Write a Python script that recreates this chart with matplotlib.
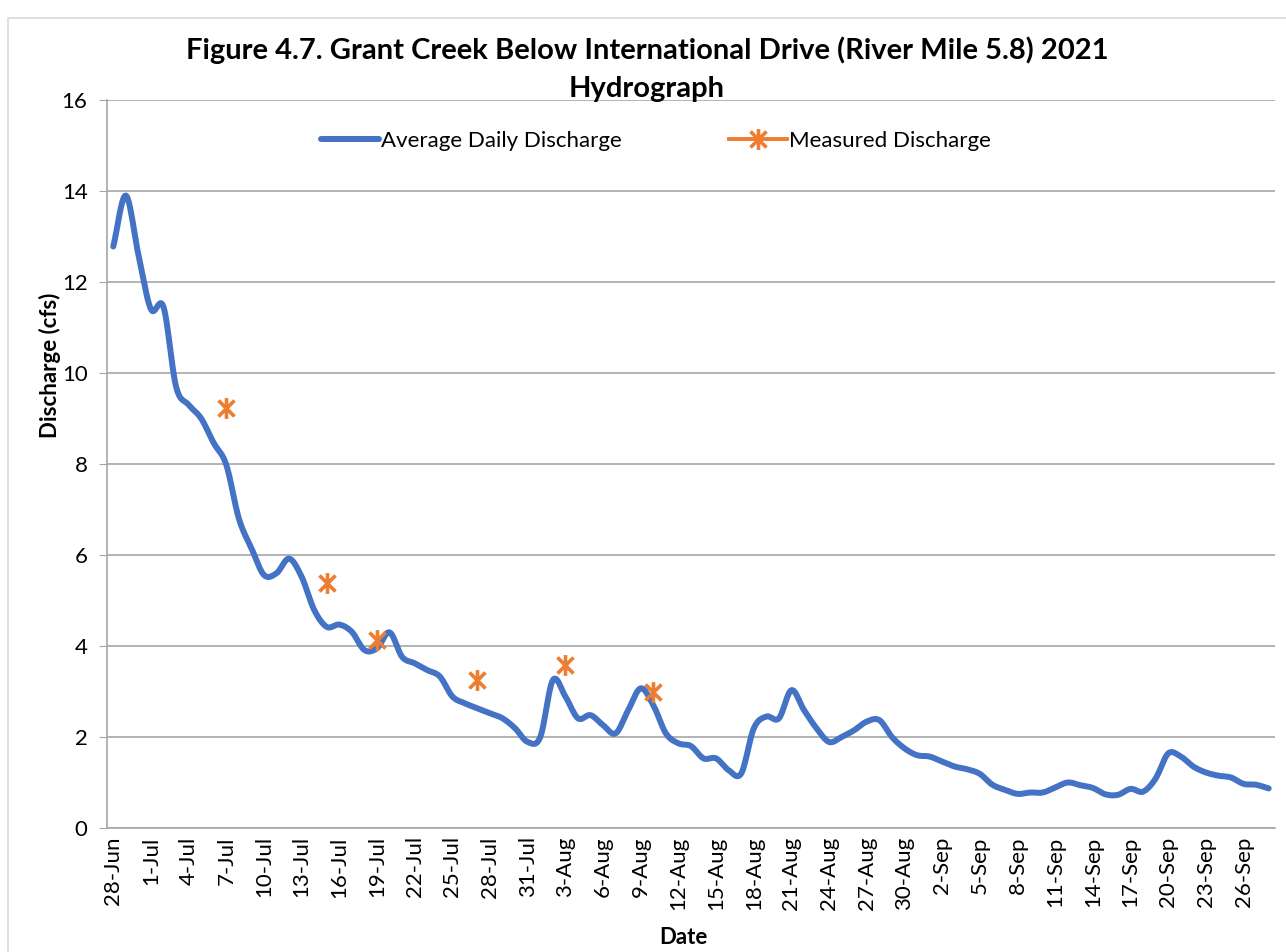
"""Grant Creek below International Drive, 2021 hydrograph -> out.png"""
import matplotlib

matplotlib.use("Agg")
import matplotlib.pyplot as plt  # noqa: E402
import matplotlib.dates as mdates  # noqa: E402
import numpy as np  # noqa: E402
import pandas as pd  # noqa: E402
from matplotlib.lines import Line2D  # noqa: E402
from matplotlib.path import Path  # noqa: E402
from matplotlib.patches import Rectangle  # noqa: E402

BLUE, ORANGE, GRID = "#4472C4", "#ED7D31", "#A6A6A6"
FONT = "Lato"

# average daily discharge (cfs), one value per day from 28-Jun to 28-Sep
start_date = "2021-06-28"
daily_cfs = [
    12.78, 13.9, 12.6, 11.4, 11.45, 9.7, 9.3, 9.0, 8.46, 7.98,
    6.8, 6.15, 5.56, 5.6, 5.92, 5.52, 4.79, 4.42, 4.47, 4.31,
    3.91, 3.95, 4.3, 3.76, 3.62, 3.47, 3.33, 2.89, 2.74, 2.63,
    2.52, 2.41, 2.19, 1.89, 2.0, 3.25, 2.89, 2.41, 2.48, 2.26,
    2.08, 2.59, 3.07, 2.7, 2.08, 1.86, 1.8, 1.53, 1.53, 1.27,
    1.2, 2.19, 2.45, 2.41, 3.03, 2.59, 2.19, 1.89, 2.0, 2.15,
    2.34, 2.37, 2.0, 1.75, 1.6, 1.57, 1.46, 1.35, 1.29, 1.19,
    0.95, 0.84, 0.75, 0.78, 0.78, 0.89, 1.0, 0.94, 0.88, 0.74,
    0.73, 0.86, 0.8, 1.09, 1.64, 1.57, 1.35, 1.22, 1.15, 1.11,
    0.97, 0.95, 0.87,
]
dates = pd.date_range(start_date, periods=len(daily_cfs), freq="D")

# field measurements
measured_dates = pd.to_datetime(["2021-07-07", "2021-07-15", "2021-07-19",
                                 "2021-07-27", "2021-08-03", "2021-08-10"])
measured_cfs = [9.22, 5.38, 4.13, 3.25, 3.59, 3.0]


def smooth(x, y, n=12):
    """Catmull-Rom curve through the points, like Excel's smoothed line."""
    x, y = np.asarray(x, float), np.asarray(y, float)
    px = np.concatenate([[2 * x[0] - x[1]], x, [2 * x[-1] - x[-2]]])
    py = np.concatenate([[2 * y[0] - y[1]], y, [2 * y[-1] - y[-2]]])
    t = np.linspace(0, 1, n, endpoint=False)[:, None]
    out = []
    for p in (px, py):
        p0, p1, p2, p3 = p[:-3], p[1:-2], p[2:-1], p[3:]
        seg = 0.5 * (2 * p1 + (-p0 + p2) * t + (2 * p0 - 5 * p1 + 4 * p2 - p3) * t ** 2
                     + (-p0 + 3 * p1 - 3 * p2 + p3) * t ** 3)
        out.append(np.append(seg.T.ravel(), p[-2]))
    return out


# Excel-style star: an X with a vertical bar through it
STAR = Path([(-1, -1), (1, 1), (-1, 1), (1, -1), (0, -1.3), (0, 1.3)],
            [Path.MOVETO, Path.LINETO, Path.MOVETO, Path.LINETO, Path.MOVETO, Path.LINETO])

plt.rcParams["font.family"] = [FONT, "DejaVu Sans"]
fig = plt.figure(figsize=(12.86, 9.52), dpi=100)
ax = fig.add_axes([107 / 1286, 1 - 828 / 952, (1275 - 107) / 1286, (828 - 100) / 952])

xnum = mdates.date2num(dates)
sx, sy = smooth(xnum, daily_cfs)
ax.plot(sx, sy, color=BLUE, linewidth=4.3, solid_capstyle="round")
ax.plot(measured_dates, measured_cfs, linestyle="none", marker=STAR, markersize=15,
        markeredgewidth=2.6, color=ORANGE, markeredgecolor=ORANGE)

ax.set_ylim(0, 16)
ax.set_yticks(range(0, 17, 2))
ax.set_xlim(xnum[0] - 0.5, xnum[-1] + 0.5)
ax.set_xticks(xnum[::3])
ax.xaxis.set_major_formatter(mdates.DateFormatter("%-d-%b"))
ax.grid(axis="y", color=GRID, linewidth=1.2)
ax.set_axisbelow(True)
for side in ("top", "right"):
    ax.spines[side].set_visible(False)
for side in ("left", "bottom"):
    ax.spines[side].set_color(GRID)
    ax.spines[side].set_linewidth(1.2)
ax.tick_params(axis="y", length=6, color=GRID, labelsize=16, pad=8)
ax.tick_params(axis="x", length=0, labelsize=16, labelrotation=90, pad=6)

ax.set_ylabel("Discharge (cfs)", fontsize=16, fontweight="bold")
ax.yaxis.set_label_coords(-0.039, 0.635)
fig.text(683 / 1286, 1 - 938 / 952, "Date", ha="center", va="center",
         fontsize=16, fontweight="bold")

fig.text(0.503, 0.947, "Figure 4.7. Grant Creek Below International Drive (River Mile 5.8) 2021",
         ha="center", va="center", fontsize=21, fontweight="bold")
fig.text(0.503, 0.907, "Hydrograph", ha="center", va="center", fontsize=21,
         fontweight="bold")

handles = [
    Line2D([], [], color=BLUE, linewidth=4.3, solid_capstyle="round"),
    Line2D([], [], color=ORANGE, linewidth=2.8, marker=STAR, markersize=15,
           markeredgewidth=2.6, markeredgecolor=ORANGE),
]
ax.legend(handles, ["Average Daily Discharge", "Measured Discharge"],
          loc="upper center", bbox_to_anchor=(0.47, 0.985), ncol=2, frameon=False,
          fontsize=16, handlelength=2.6, columnspacing=4.8, handletextpad=0.1)

fig.patches.append(Rectangle((8 / 1286, -0.1), 1.2, 1.1 - 18 / 952, transform=fig.transFigure,
                             fill=False, edgecolor="#D9D9D9", linewidth=1.2))

fig.savefig("out.png", dpi=100)
